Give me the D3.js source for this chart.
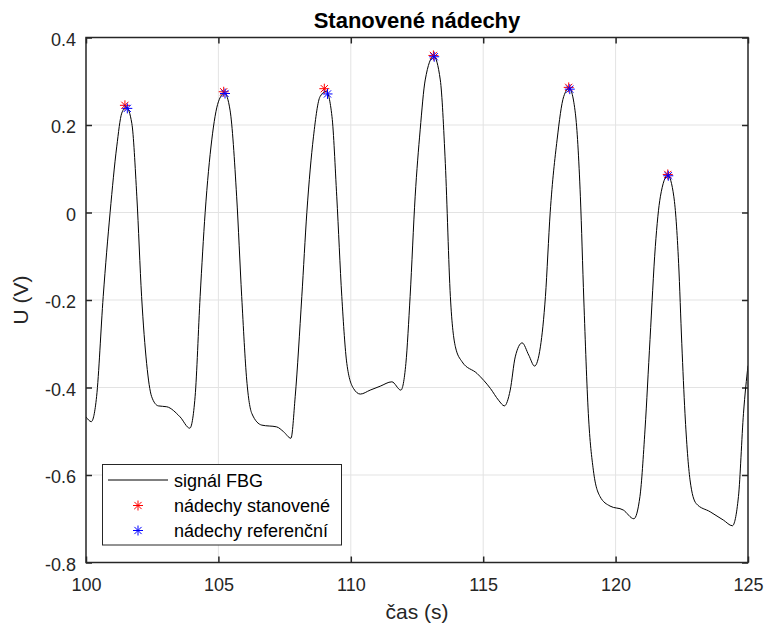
<!DOCTYPE html>
<html lang="cs">
<head>
    <meta charset="UTF-8">
    <title>Stanovené nádechy</title>
    <script src="https://cdn.jsdelivr.net/npm/d3@7/dist/d3.min.js"></script>
    <style>
        body { margin: 0; background: #fff; }
        text { font-family: "Liberation Sans", Arial, sans-serif; fill: #262626; }
    </style>
</head>
<body>
<script type="text/javascript">
    // signál FBG (čas v s, napětí ve V)
    var time = [100.0, 100.2, 100.4, 100.65, 100.91, 101.16, 101.35, 101.52, 101.73, 101.92,
        102.1, 102.29, 102.48, 102.73, 103.05, 103.55, 103.92, 104.12, 104.31, 104.5,
        104.75, 105.0, 105.23, 105.44, 105.69, 105.88, 106.07, 106.26, 106.64, 107.2,
        107.46, 107.74, 107.9, 108.15, 108.34, 108.59, 108.84, 109.07, 109.29, 109.47,
        109.66, 109.85, 110.1, 110.36, 110.73, 111.11, 111.55, 111.89, 112.08, 112.24,
        112.43, 112.62, 112.81, 113.13, 113.38, 113.57, 113.76, 113.95, 114.2, 114.77,
        115.27, 115.58, 115.8, 116.02, 116.21, 116.47, 116.72, 116.94, 117.16, 117.35,
        117.53, 117.79, 118.04, 118.25, 118.48, 118.67, 118.8, 118.97, 119.16, 119.41,
        119.79, 120.29, 120.69, 120.92, 121.11, 121.3, 121.5, 121.69, 121.97, 122.2,
        122.38, 122.5, 122.62, 122.81, 123.04, 123.57, 124.07, 124.41, 124.64, 124.83,
        125.0];
    var signal = [-0.467, -0.478, -0.421, -0.192, 0.0, 0.15, 0.227, 0.241, 0.204, 0.036,
        -0.192, -0.345, -0.421, -0.442, -0.444, -0.467, -0.493, -0.421, -0.192, 0.0,
        0.166, 0.253, 0.273, 0.234, 0.036, -0.192, -0.383, -0.459, -0.486, -0.49,
        -0.501, -0.516, -0.421, -0.192, 0.0, 0.173, 0.265, 0.277, 0.219, 0.036,
        -0.192, -0.345, -0.402, -0.415, -0.406, -0.397, -0.387, -0.406, -0.345, -0.192,
        0.036, 0.189, 0.303, 0.357, 0.303, 0.112, -0.192, -0.307, -0.341, -0.368,
        -0.402, -0.429, -0.442, -0.406, -0.33, -0.298, -0.326, -0.351, -0.307, -0.192,
        0.0, 0.166, 0.265, 0.284, 0.227, 0.036, -0.2, -0.459, -0.589, -0.649,
        -0.671, -0.68, -0.70, -0.649, -0.497, -0.29, -0.078, 0.036, 0.085, 0.036,
        -0.116, -0.3, -0.459, -0.611, -0.665, -0.684, -0.703, -0.716, -0.649, -0.459,
        -0.35];

    // nádechy stanovené
    var estTime = [101.47, 105.2, 109.0, 113.12, 118.23, 121.97];
    var estValue = [0.245, 0.276, 0.283, 0.359, 0.286, 0.087];
    // nádechy referenční
    var refTime = [101.56, 105.25, 109.12, 113.15, 118.27, 121.99];
    var refValue = [0.238, 0.272, 0.271, 0.356, 0.282, 0.084];

    var xTicks = [100, 105, 110, 115, 120, 125];
    var xTickLabels = ['100', '105', '110', '115', '120', '125'];
    var yTicks = [-0.8, -0.6, -0.4, -0.2, 0, 0.2, 0.4];
    var yTickLabels = ['-0.8', '-0.6', '-0.4', '-0.2', '0', '0.2', '0.4'];

    var legendLabels = ['signál FBG', 'nádechy stanovené', 'nádechy referenční'];

    var width = 769;
    var height = 627;
    var plotL = 86, plotR = 748, plotT = 37.5, plotB = 562.5;

    var svg = d3.select('body').append('svg')
            .attr('width', width)
            .attr('height', height);

    var x = d3.scaleLinear().domain([100, 125]).range([plotL, plotR]);
    var y = d3.scaleLinear().domain([-0.8, 0.4]).range([plotB, plotT]);

    // mřížka
    svg.append('g').selectAll('line')
            .data(xTicks.slice(1, -1))
            .enter().append('line')
            .attr('x1', function (d) { return x(d); })
            .attr('x2', function (d) { return x(d); })
            .attr('y1', plotT).attr('y2', plotB)
            .attr('stroke', '#e3e3e3').attr('stroke-width', 1);
    svg.append('g').selectAll('line')
            .data(yTicks.slice(1, -1))
            .enter().append('line')
            .attr('y1', function (d) { return y(d); })
            .attr('y2', function (d) { return y(d); })
            .attr('x1', plotL).attr('x2', plotR)
            .attr('stroke', '#e3e3e3').attr('stroke-width', 1);

    // osy
    function styleAxis(g) {
        g.select('.domain').remove();
        g.selectAll('.tick line').attr('stroke', '#262626').attr('stroke-width', 1.5);
        g.selectAll('.tick text').attr('fill', '#262626')
                .style('font-size', '18px');
    }
    svg.append('g')
            .attr('transform', 'translate(0,' + plotB + ')')
            .call(d3.axisBottom(x).tickValues(xTicks).tickSizeInner(-6).tickSizeOuter(0)
                    .tickPadding(16)
                    .tickFormat(function (d, i) { return xTickLabels[i]; }))
            .call(styleAxis);
    svg.append('g')
            .attr('transform', 'translate(0,' + plotT + ')')
            .call(d3.axisTop(x).tickValues(xTicks).tickSizeInner(-6).tickSizeOuter(0)
                    .tickFormat(''))
            .call(styleAxis);
    svg.append('g')
            .attr('transform', 'translate(' + plotL + ',0)')
            .call(d3.axisLeft(y).tickValues(yTicks).tickSizeInner(-6).tickSizeOuter(0)
                    .tickPadding(10)
                    .tickFormat(function (d, i) { return yTickLabels[i]; }))
            .call(styleAxis)
            .selectAll('.tick text').attr('dy', '0.44em');
    svg.append('g')
            .attr('transform', 'translate(' + plotR + ',0)')
            .call(d3.axisRight(y).tickValues(yTicks).tickSizeInner(-6).tickSizeOuter(0)
                    .tickFormat(''))
            .call(styleAxis);

    // signál
    svg.append('clipPath').attr('id', 'clip')
            .append('rect')
            .attr('x', plotL).attr('y', plotT)
            .attr('width', plotR - plotL).attr('height', plotB - plotT);

    var line = d3.line()
            .x(function (d, i) { return x(time[i]); })
            .y(function (d) { return y(d); })
            .curve(d3.curveMonotoneX);

    svg.append('path')
            .datum(signal)
            .attr('clip-path', 'url(#clip)')
            .attr('fill', 'none')
            .attr('stroke', '#000')
            .attr('stroke-width', 1)
            .attr('d', line);

    // hvězdička (marker '*')
    function star(r) {
        var d = r * 0.72;
        return 'M0,' + (-r) + 'L0,' + r + 'M' + (-r) + ',0L' + r + ',0' +
                'M' + (-d) + ',' + (-d) + 'L' + d + ',' + d +
                'M' + (-d) + ',' + d + 'L' + d + ',' + (-d);
    }

    svg.append('g').selectAll('path')
            .data(estValue)
            .enter().append('path')
            .attr('transform', function (d, i) {
                return 'translate(' + x(estTime[i]) + ',' + y(d) + ')';
            })
            .attr('d', star(5))
            .attr('fill', 'none')
            .attr('stroke', '#ff0000')
            .attr('stroke-width', 1);

    svg.append('g').selectAll('path')
            .data(refValue)
            .enter().append('path')
            .attr('transform', function (d, i) {
                return 'translate(' + x(refTime[i]) + ',' + y(d) + ')';
            })
            .attr('d', star(5))
            .attr('fill', 'none')
            .attr('stroke', '#0000ff')
            .attr('stroke-width', 1);

    // rámeček
    svg.append('rect')
            .attr('x', plotL).attr('y', plotT)
            .attr('width', plotR - plotL).attr('height', plotB - plotT)
            .attr('fill', 'none')
            .attr('stroke', '#262626')
            .attr('stroke-width', 1.5);

    // titulek a popisky os
    svg.append('text')
            .attr('x', (plotL + plotR) / 2).attr('y', 28)
            .attr('text-anchor', 'middle')
            .style('font-size', '22px').style('font-weight', 'bold')
            .style('fill', '#000')
            .text('Stanovené nádechy');
    svg.append('text')
            .attr('x', (plotL + plotR) / 2).attr('y', 619)
            .attr('text-anchor', 'middle')
            .style('font-size', '21px')
            .text('čas (s)');
    svg.append('text')
            .attr('transform', 'translate(28,' + ((plotT + plotB) / 2) + ') rotate(-90)')
            .attr('text-anchor', 'middle')
            .style('font-size', '21px')
            .text('U (V)');

    // legenda
    var legend = svg.append('g');
    legend.append('rect')
            .attr('x', 102.5).attr('y', 464.5)
            .attr('width', 239).attr('height', 80.5)
            .attr('fill', '#fff')
            .attr('stroke', '#262626')
            .attr('stroke-width', 1);
    legend.append('line')
            .attr('x1', 108).attr('x2', 168)
            .attr('y1', 480).attr('y2', 480)
            .attr('stroke', '#000').attr('stroke-width', 1);
    legend.append('path')
            .attr('transform', 'translate(138,505.5)')
            .attr('d', star(5))
            .attr('fill', 'none').attr('stroke', '#ff0000');
    legend.append('path')
            .attr('transform', 'translate(138,530.5)')
            .attr('d', star(5))
            .attr('fill', 'none').attr('stroke', '#0000ff');
    legend.selectAll('text')
            .data(legendLabels)
            .enter().append('text')
            .attr('x', 174)
            .attr('y', function (d, i) { return 486.5 + i * 25; })
            .style('font-size', '18px')
            .style('fill', '#000')
            .text(function (d) { return d; });
</script>
</body>
</html>
